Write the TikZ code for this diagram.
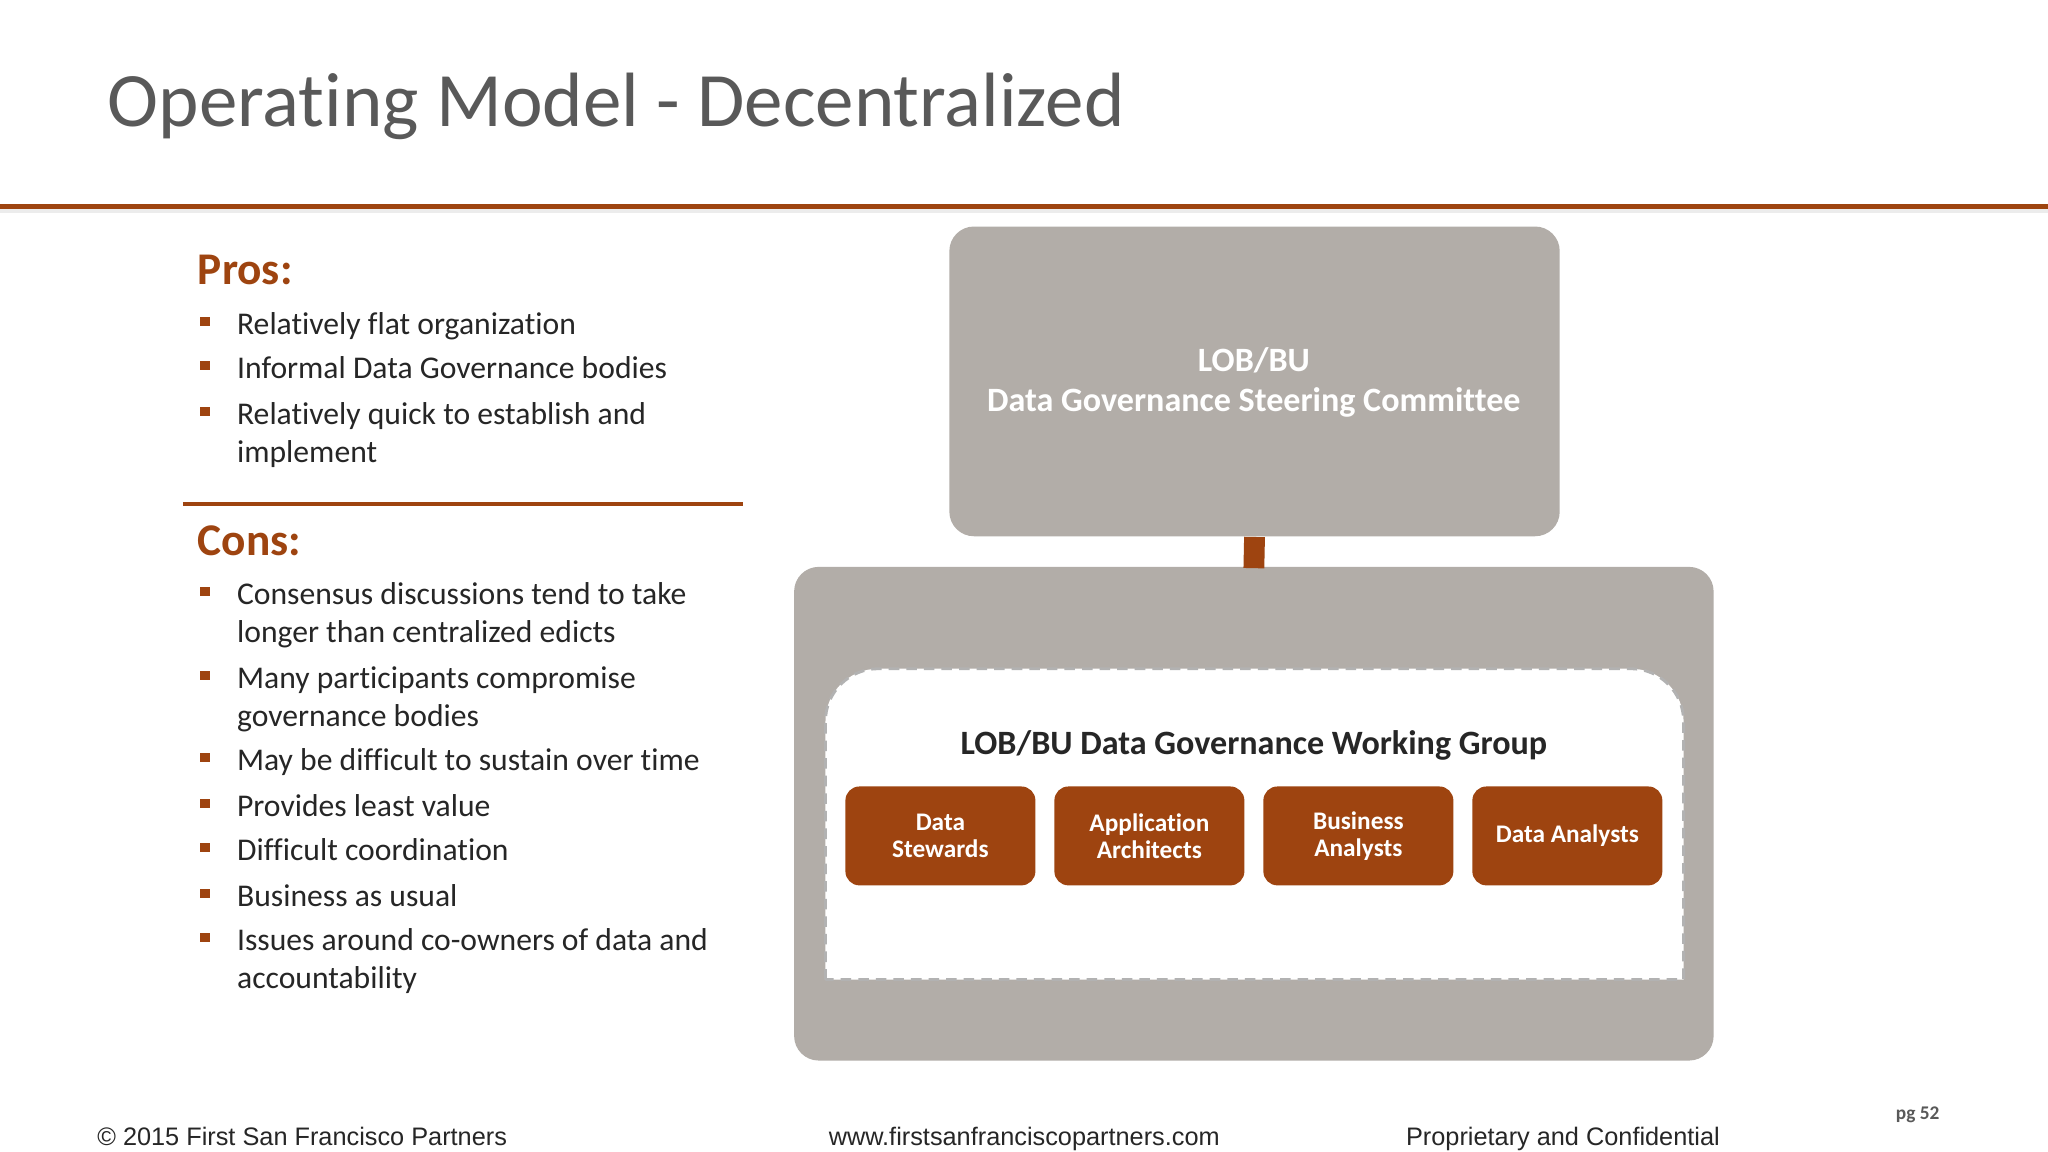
\documentclass[tikz,border=0pt]{standalone}
\usepackage{fontspec}
\setmainfont[Ligatures={NoCommon}]{Carlito}
\newfontfamily\arialf{Liberation Sans}
\definecolor{rust}{HTML}{9E4410}
\definecolor{boxgray}{HTML}{B2ADA8}
\definecolor{titlegray}{HTML}{595959}
\definecolor{txt}{HTML}{262626}
\tikzset{
 px/.style={x=0.013061cm,y=-0.013061cm},
 bul/.style={anchor=base west,font=\fontsize{9.0}{11}\selectfont,text=txt,inner sep=0},
 sq/.style={fill=rust,minimum size=2.6pt,inner sep=0},
 head/.style={anchor=base west,font=\fontsize{12.9}{15}\selectfont\bfseries,text=rust,inner sep=0},
 rolebox/.style={fill=rust,rounded corners=4pt,minimum width=146*0.3703pt,minimum height=76*0.3703pt,text=white,font=\fontsize{7.2}{7.6}\selectfont\bfseries,align=center,inner sep=0},
 foot/.style={anchor=base west,font=\arialf\fontsize{7.2}{9}\selectfont,text=txt,inner sep=0}
}
\begin{document}
\begin{tikzpicture}[px]
\useasboundingbox[fill=white] (0,0) rectangle (1568,882);
\node[anchor=base west,inner sep=0,font=\fontsize{21.9}{26}\selectfont,text=titlegray] (title) at (82,97) {Operating Model - Decentralized};
\fill[gray!15] (0,160) rectangle (1568,163);
\fill[rust] (0,156) rectangle (1568,160);
\node[head] (pros) at (151,218) {Pros:};
\foreach \y/\t in {256/Relatively flat organization,290/Informal Data Governance bodies,325/Relatively quick to establish and,354/implement}{\node[bul] at (181,\y) {\t};}
\foreach \y in {246,280,315}{\node[sq] at (157,\y) {};}
\draw[rust,line width=1.1pt] (140,386) -- (569,386);
\node[head] (cons) at (151,425) {Cons:};
\foreach \y/\t in {463/Consensus discussions tend to take,492/longer than centralized edicts,527/Many participants compromise,556/governance bodies,590/May be difficult to sustain over time,625/Provides least value,659/Difficult coordination,694/Business as usual,728/Issues around co-owners of data and,757/accountability}{\node[bul] at (181,\y) {\t};}
\foreach \y in {453,517,580,615,649,684,718}{\node[sq] at (157,\y) {};}
\fill[boxgray,rounded corners=7pt] (608,434) rectangle (1312,812);
\node[fill=boxgray,rounded corners=7pt,minimum width=469*0.3703pt,minimum height=238*0.3703pt,inner sep=0] (top) at (960.5,292) {};
\node[text=white,font=\fontsize{9.7}{11.5}\selectfont\bfseries,align=center] (toptext) at (960,293) {LOB/BU\\Data Governance Steering Committee};
\coordinate (bigtop) at (960,435);
\draw[rust,line width=16*0.3703pt] (top.south) -- (bigtop);
\fill[white] (632,750) [rounded corners=15pt]-- (632,512) -- (1289,512) [sharp corners]-- (1289,750) -- cycle;
\draw[gray!60,line width=0.8pt,dash pattern=on 3pt off 2pt] (632,750) [rounded corners=15pt]-- (632,512) -- (1289,512) [sharp corners]-- (1289,750) -- cycle;
\node[anchor=base,inner sep=0,font=\fontsize{9.7}{12}\selectfont\bfseries,text=txt] (wg) at (960,578) {LOB/BU Data Governance Working Group};
\node[rolebox] (b1) at (720,640) {Data\\Stewards};
\node[rolebox] (b2) at (880,640) {Application\\Architects};
\node[rolebox] (b3) at (1040,640) {Business\\Analysts};
\node[rolebox] (b4) at (1200,640) {Data Analysts};
\node[foot] at (74,877) {© 2015 First San Francisco Partners};
\node[foot] at (634,877) {www.firstsanfranciscopartners.com};
\node[foot] at (1076,877) {Proprietary and Confidential};
\node[anchor=base west,inner sep=0,font=\fontsize{5.5}{7}\selectfont\bfseries,text=titlegray] at (1451,857) {pg 52};
\end{tikzpicture}
\end{document}
